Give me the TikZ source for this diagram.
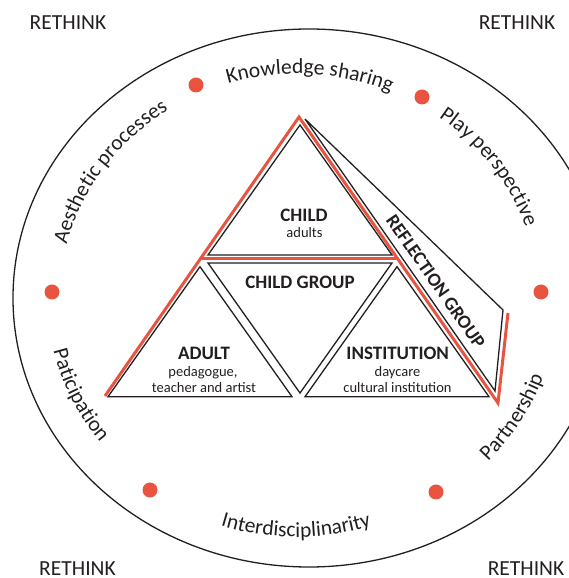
\documentclass[tikz,border=0pt]{standalone}
\usepackage{fontspec}
\setmainfont{Carlito}
\usetikzlibrary{decorations.text}
\definecolor{rethinkred}{RGB}{233,84,64}
\definecolor{ink}{RGB}{35,31,32}
\newcommand\arcfont{\fontsize{21.5}{24}\selectfont\color{ink}}

\begin{document}
\begin{tikzpicture}[x=1pt, y=1pt, line join=miter,
      every node/.append style={text=ink, inner sep=0pt}]
    \tikzstyle{corner} = [font=\fontsize{21.5}{24}\selectfont, anchor=base]
    \tikzstyle{head} = [font=\bfseries\fontsize{19}{21}\selectfont, anchor=base]
    \tikzstyle{sub} = [font=\fontsize{14.5}{17}\selectfont, anchor=base]
    \tikzstyle{dot} = [circle, fill=rethinkred, minimum size=15pt]
    \tikzstyle{tri} = [draw=ink, line width=1.3pt]
    \tikzstyle{redline} = [draw=rethinkred, line width=3pt]
    \useasboundingbox (0,0) rectangle (569,578);
    % outer ring
    \draw[ink, line width=1.3pt] (309,280) ellipse [x radius=296, y radius=269];
    % corner words
    \node[corner] (rethinkNW) at (68,548) {RETHINK};
    \node[corner] (rethinkNE) at (517,548) {RETHINK};
    \node[corner] (rethinkSW) at (77.5,2.5) {RETHINK};
    \node[corner] (rethinkSE) at (526,2.5) {RETHINK};
    % dots on the ring
    \foreach \x/\y [count=\i] in {196/493, 422/481, 541/286, 436/86, 150/88, 52/286}
      \node[dot] (dot\i) at (\x,\y) {};
    % words on the ring
    \path[decorate, decoration={text along path, text align=center,
        text={|\arcfont|Knowledge sharing}}]
      (298,280) ++(137:238 and 224) arc[start angle=137, end angle=37, x radius=238, y radius=224];
    \path[decorate, decoration={text along path, text align=center,
        text={|\arcfont|Play perspective}}]
      (298,280) ++(80:240 and 223) arc[start angle=80, end angle=-9, x radius=240, y radius=223];
    \path[decorate, decoration={text along path, text align=center,
        text={|\arcfont|Aesthetic processes}}]
      (296,280) ++(190:236 and 223) arc[start angle=190, end angle=100, x radius=236, y radius=223];
    \path[decorate, decoration={text along path, text align=center,
        text={|\arcfont|Paticipation}}]
      (296,280) ++(160:249 and 234) arc[start angle=160, end angle=250, x radius=249, y radius=234];
    \path[decorate, decoration={text along path, text align=center,
        text={|\arcfont|Interdisciplinarity}}]
      (296,280) ++(220:249 and 239) arc[start angle=220, end angle=320, x radius=249, y radius=239];
    \path[decorate, decoration={text along path, text align=center,
        text={|\arcfont|Partnership}}]
      (296,280) ++(285:262 and 240) arc[start angle=285, end angle=375, x radius=262, y radius=240];
    % reflection strip
    \coordinate (stripT) at (305,459);
    \coordinate (stripB) at (503,268);
    \coordinate (stripC) at (495,187);
    \draw[tri] (stripT) -- (stripB) -- (stripC) -- cycle;
    % red frame
    \coordinate (redL) at (105,182);
    \coordinate (redA) at (299,461);
    \coordinate (redR) at (498,175);
    \coordinate (redT) at (508,265);
    \draw[redline] (redL) -- (redA) -- (redR) -- (redT);
    \draw[redline] (200.3,319) -- (397.8,319);
    % four triangles
    \draw[tri] (300,453) -- (392,323) -- (208,323) -- cycle;
    \draw[tri] (208,315) -- (392,315) -- (300,185) -- cycle;
    \draw[tri] (200,311.3) -- (292,181.3) -- (108,181.3) -- cycle;
    \draw[tri] (397,311.3) -- (489,181.3) -- (305,181.3) -- cycle;
    % texts in the triangles
    \node[head] (child) at (304,356) {CHILD};
    \node[sub] (adults) at (304.5,340) {adults};
    \node[head] (group) at (300,289.4) {CHILD GROUP};
    \node[head] (adult) at (204,218) {ADULT};
    \node[sub] (pedagogue) at (203,201) {pedagogue,};
    \node[sub] (teacher) at (204,185) {teacher and artist};
    \node[head] (institution) at (397.7,218) {INSTITUTION};
    \node[sub] (daycare) at (397.5,201) {daycare};
    \node[sub] (cultural) at (397.5,185) {cultural institution};
    \node[head, anchor=center, rotate=-55] (reflection) at (435.7,296.3) {REFLECTION GROUP};
\end{tikzpicture}
\end{document}
